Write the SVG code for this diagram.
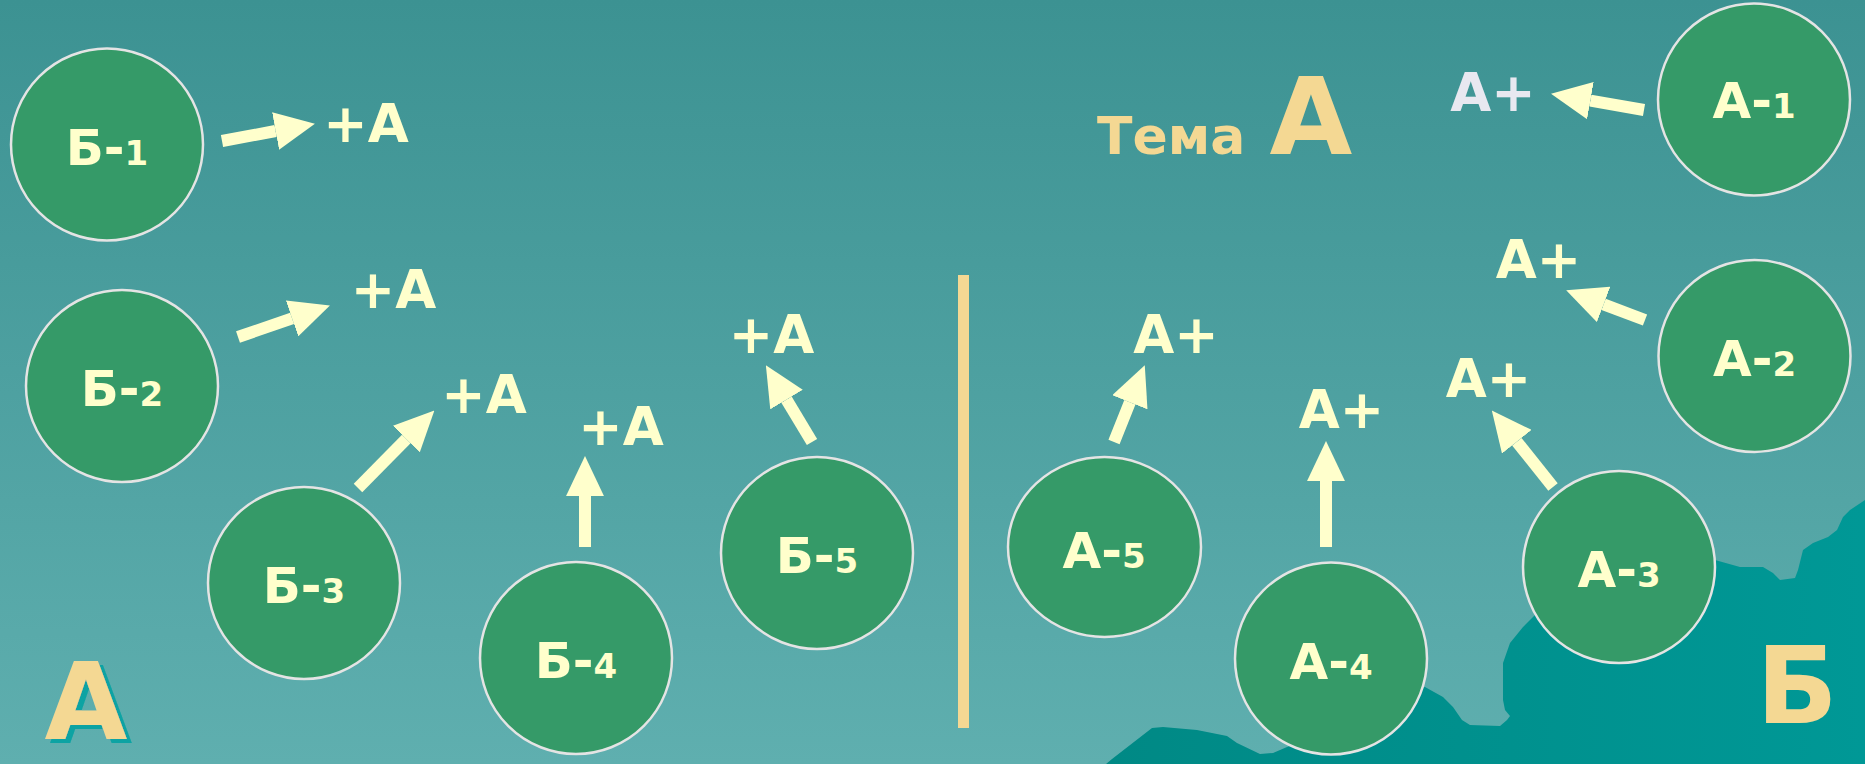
<svg xmlns="http://www.w3.org/2000/svg" width="1865" height="764" viewBox="0 0 1865 764">
<defs>
<linearGradient id="bg" x1="0" y1="0" x2="0" y2="1">
<stop offset="0" stop-color="#3c9292"/>
<stop offset="1" stop-color="#5fafaf"/>
</linearGradient>
<linearGradient id="land" x1="0" y1="0" x2="1" y2="0">
<stop offset="0" stop-color="#008985"/>
<stop offset="1" stop-color="#009896"/>
</linearGradient>
<marker id="ah" markerUnits="userSpaceOnUse" markerWidth="40" markerHeight="38" viewBox="0 0 38 36" refX="0" refY="18" orient="auto">
<path d="M0,0 L38,18 L0,36 z" fill="#ffffcc"/>
</marker>
<filter id="shadow" x="-10%" y="-10%" width="130%" height="130%">
<feOffset in="SourceAlpha" dx="5" dy="4" result="off"/>
<feFlood flood-color="#0aa3a3"/>
<feComposite in2="off" operator="in" result="sh"/>
<feMerge><feMergeNode in="sh"/><feMergeNode in="SourceGraphic"/></feMerge>
</filter>
</defs>
<style>
.node{fill:#359a68;stroke:#e4e4e4;stroke-width:2.5}
.lbl{font-family:"DejaVu Sans",Verdana,sans-serif;font-weight:bold;font-size:50px;fill:#ffffcc;text-anchor:middle}
.dig{font-size:34px}
.plus{font-family:"DejaVu Sans",Verdana,sans-serif;font-weight:bold;font-size:53px;fill:#ffffcc;text-anchor:middle}
.conn{stroke:#ffffcc;stroke-width:12;fill:none;marker-end:url(#ah)}
.big{font-family:"DejaVu Sans",Verdana,sans-serif;font-weight:bold;font-size:107px;fill:#f4d893}
</style>
<rect x="0" y="0" width="1865" height="764" fill="url(#bg)"/>
<path fill="url(#land)" d="M1106,764 L1112,759 L1152,728 L1163,727 L1197,730 L1227,736 L1237,743 L1260,754 L1273,753 L1287,747 L1330,730 L1400,690 L1425,687 L1443,697 L1453,707 L1462,720 L1470,725 L1500,726 L1507,720 L1510,716 L1505,710 L1503,700 L1503,663 L1510,643 L1523,627 L1540,610 L1600,560 L1715,560 L1740,567 L1763,567 L1773,573 L1780,580 L1795,578 L1798,570 L1803,550 L1813,543 L1828,537 L1837,530 L1843,517 L1850,510 L1865,500 L1865,764 Z"/>
<rect id="divider" x="958" y="275" width="11" height="453" fill="#f4d893"/>
<g id="connectors">
<line class="conn" x1="222" y1="141" x2="275.6" y2="131"/>
<line class="conn" x1="238" y1="337" x2="292.1" y2="318.4"/>
<line class="conn" x1="358" y1="488" x2="406.3" y2="439"/>
<line class="conn" x1="585" y1="547" x2="585" y2="496"/>
<line class="conn" x1="812" y1="442" x2="786.5" y2="399.6"/>
<line class="conn" x1="1114" y1="442" x2="1129.9" y2="402.3"/>
<line class="conn" x1="1326" y1="547" x2="1326" y2="481"/>
<line class="conn" x1="1553" y1="487" x2="1516.8" y2="441.7"/>
<line class="conn" x1="1645" y1="320" x2="1603.6" y2="304.4"/>
<line class="conn" x1="1644" y1="110" x2="1590.4" y2="100.6"/>
</g>
<g id="node-b1"><circle class="node" cx="107" cy="144.5" r="96"/><text class="lbl" x="107" y="165">Б-<tspan class="dig">1</tspan></text></g>
<g id="node-b2"><circle class="node" cx="122" cy="386" r="96"/><text class="lbl" x="122" y="406">Б-<tspan class="dig">2</tspan></text></g>
<g id="node-b3"><circle class="node" cx="304" cy="583" r="96"/><text class="lbl" x="304" y="603">Б-<tspan class="dig">3</tspan></text></g>
<g id="node-b4"><circle class="node" cx="576" cy="658" r="96"/><text class="lbl" x="576" y="678">Б-<tspan class="dig">4</tspan></text></g>
<g id="node-b5"><circle class="node" cx="817" cy="553" r="96"/><text class="lbl" x="817" y="573">Б-<tspan class="dig">5</tspan></text></g>
<g id="node-a5"><ellipse class="node" cx="1104.5" cy="547" rx="96.5" ry="90"/><text class="lbl" x="1104" y="568">А-<tspan class="dig">5</tspan></text></g>
<g id="node-a4"><circle class="node" cx="1331" cy="658.5" r="96"/><text class="lbl" x="1331" y="679">А-<tspan class="dig">4</tspan></text></g>
<g id="node-a3"><circle class="node" cx="1619" cy="567" r="96"/><text class="lbl" x="1619" y="587">А-<tspan class="dig">3</tspan></text></g>
<g id="node-a2"><circle class="node" cx="1754.5" cy="356" r="96"/><text class="lbl" x="1754.5" y="376">А-<tspan class="dig">2</tspan></text></g>
<g id="node-a1"><circle class="node" cx="1754" cy="99.5" r="96"/><text class="lbl" x="1754" y="118">А-<tspan class="dig">1</tspan></text></g>
<g id="labels">
<text class="plus" x="366" y="142">+А</text>
<text class="plus" x="393.5" y="308">+А</text>
<text class="plus" x="484" y="413">+А</text>
<text class="plus" x="621" y="445">+А</text>
<text class="plus" x="771.5" y="353">+А</text>
<text class="plus" x="1176" y="353">А+</text>
<text class="plus" x="1341.5" y="428">А+</text>
<text class="plus" x="1488.5" y="397">А+</text>
<text class="plus" x="1538.5" y="278">А+</text>
<text class="plus" x="1493" y="111" style="fill:#e8e8f0">А+</text>
</g>
<g id="titles">
<text x="1097" y="154" style="font-family:'DejaVu Sans',Verdana,sans-serif;font-weight:bold;font-size:52px;fill:#f4d893">Тема</text>
<text class="big" x="1311" y="154" style="text-anchor:middle">А</text>
<text class="big" x="86" y="739" style="text-anchor:middle" filter="url(#shadow)">А</text>
<text class="big" x="1797" y="723" style="text-anchor:middle">Б</text>
</g>
</svg>
